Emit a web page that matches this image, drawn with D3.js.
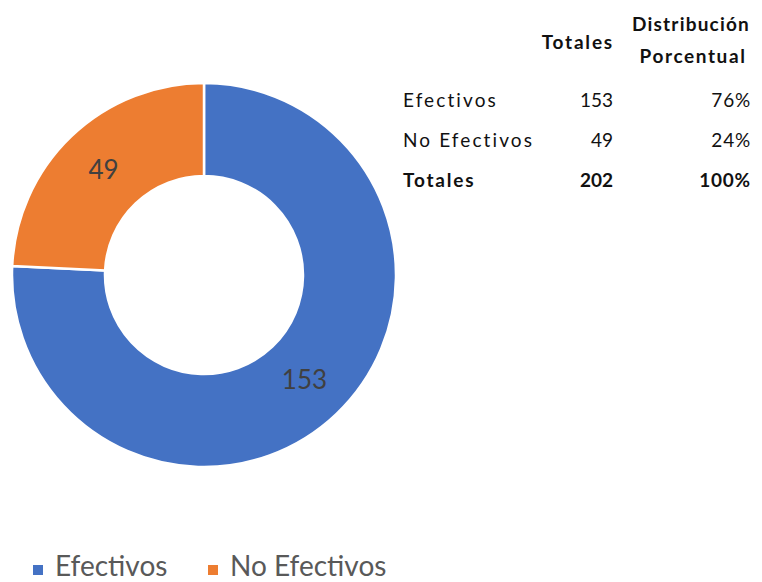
<!DOCTYPE html>
<html>
<head>
<meta charset="utf-8">
<script src="https://cdn.jsdelivr.net/npm/d3@7"></script>
<style>
  body { margin: 0; background: #fff; }
  text { font-family: Lato, "Open Sans", sans-serif; }
</style>
</head>
<body>
<div id="chart"></div>
<script>
(function () {

  var categories = ["Efectivos", "No Efectivos"]
  var values = [153, 49]
  var percents = ["76%", "24%"]
  var totalLabel = "Totales"
  var totalValue = 202
  var totalPercent = "100%"
  var colors = ["#4472C4", "#ED7D31"]

  var width = 762, height = 582

  var svg = d3.select("#chart").append("svg")
      .attr("width", width)
      .attr("height", height)

  var cx = 204, cy = 275, outerR = 192, innerR = 99

  var pie = d3.pie().sort(null)
  var arc = d3.arc().innerRadius(innerR).outerRadius(outerR)

  var g = svg.append("g")
      .attr("transform", "translate(" + cx + "," + cy + ")")

  var slices = g.selectAll(".slice")
    .data(pie(values))
    .enter().append("g")
    .attr("class", "slice")

  slices.append("path")
    .attr("d", arc)
    .attr("fill", function(d, i) { return colors[i] })
    .attr("stroke", "#fff")
    .attr("stroke-width", 2.5)

  slices.append("text")
    .attr("transform", function(d) { return "translate(" + arc.centroid(d) + ")" })
    .attr("text-anchor", "middle")
    .attr("dy", "0.35em")
    .attr("font-size", 26)
    .attr("fill", "#404040")
    .text(function(d) { return d.data })

  // table on the right
  var table = svg.append("g").attr("font-size", 19).attr("fill", "#111")

  table.append("text")
    .attr("x", 614).attr("y", 49)
    .attr("text-anchor", "end").attr("font-weight", "bold")
    .attr("letter-spacing", 1.8)
    .text("Totales")
  table.append("text")
    .attr("x", 691).attr("y", 31)
    .attr("text-anchor", "middle").attr("font-weight", "bold")
    .attr("letter-spacing", 1.2)
    .text("Distribución")
  table.append("text")
    .attr("x", 693).attr("y", 63)
    .attr("text-anchor", "middle").attr("font-weight", "bold")
    .attr("letter-spacing", 1.6)
    .text("Porcentual")

  var rowY = d3.scalePoint()
      .domain(categories.concat([totalLabel]))
      .range([107, 187])

  var rows = table.selectAll(".row")
    .data(categories.map(function(c, i) {
      return { name: c, value: values[i], pct: percents[i], bold: false }
    }).concat([{ name: totalLabel, value: totalValue, pct: totalPercent, bold: true }]))
    .enter().append("g")
    .attr("class", "row")
    .attr("transform", function(d) { return "translate(0," + rowY(d.name) + ")" })
    .attr("font-weight", function(d) { return d.bold ? "bold" : "normal" })

  rows.append("text")
    .attr("x", 403)
    .attr("letter-spacing", function(d) { return d.bold ? 1.8 : 2.1 })
    .text(function(d) { return d.name })
  rows.append("text")
    .attr("x", 613).attr("text-anchor", "end")
    .text(function(d) { return d.value })
  rows.append("text")
    .attr("x", 751).attr("text-anchor", "end")
    .attr("letter-spacing", 0.8)
    .text(function(d) { return d.pct })

  // legend
  var legendX = d3.scaleOrdinal().domain(categories).range([33, 208])

  var legend = svg.selectAll(".legend")
    .data(categories)
    .enter().append("g")
    .attr("class", "legend")
    .attr("transform", function(d) { return "translate(" + legendX(d) + ",570)" })

  legend.append("rect")
    .attr("x", 0).attr("y", -5)
    .attr("width", 10).attr("height", 10)
    .attr("fill", function(d, i) { return colors[i] })

  legend.append("text")
    .attr("x", 22).attr("y", 6)
    .attr("font-size", 28)
    .attr("fill", "#595959")
    .text(function(d) { return d })

})()
</script>
</body>
</html>
